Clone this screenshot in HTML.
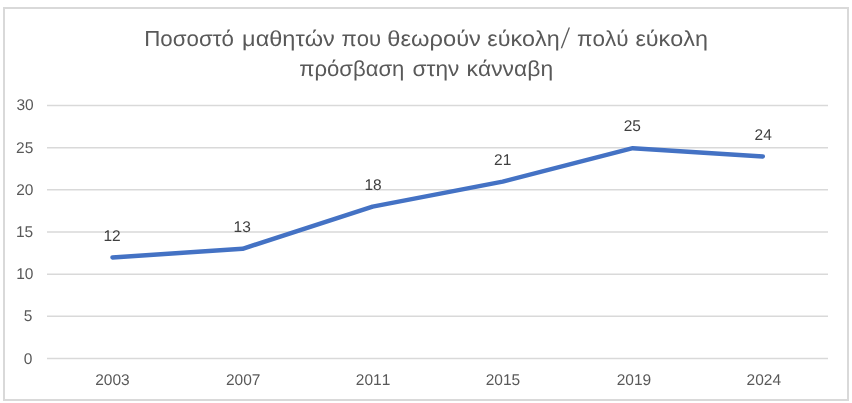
<!DOCTYPE html>
<html>
<head>
<meta charset="utf-8">
<style>
html,body{margin:0;padding:0;background:#fff;}
body{width:852px;height:403px;overflow:hidden;position:relative;}
svg{position:absolute;left:0;top:0;display:block;will-change:transform;}
text{font-family:"Liberation Sans","DejaVu Sans",sans-serif;font-kerning:none;text-rendering:geometricPrecision;}
.ti text{font-size:21.8px;fill:#595959;}
.ax{font-size:15.5px;fill:#595959;}
.dl{font-size:15.5px;fill:#404040;}
</style>
</head>
<body>
<svg width="852" height="403" viewBox="0 0 852 403">
  <rect x="0" y="0" width="852" height="403" fill="#ffffff"/>
  <rect x="4" y="8" width="844" height="392" fill="#ffffff" stroke="#d9d9d9" stroke-width="2"/>
  <g class="ti">
  <text x="144.21" y="45.6" textLength="89.69" lengthAdjust="spacingAndGlyphs">Ποσοστό</text>
  <text x="242.12" y="45.6" textLength="92.76" lengthAdjust="spacingAndGlyphs">μαθητών</text>
  <text x="341.54" y="45.6" textLength="39.64" lengthAdjust="spacingAndGlyphs">που</text>
  <text x="387.38" y="45.6" textLength="93.52" lengthAdjust="spacingAndGlyphs">θεωρούν</text>
  <text x="487.30" y="45.6" textLength="72.44" lengthAdjust="spacingAndGlyphs">εύκολη</text>
  <text x="577.03" y="45.6" textLength="51.49" lengthAdjust="spacingAndGlyphs">πολύ</text>
  <text x="635.40" y="45.6" textLength="72.54" lengthAdjust="spacingAndGlyphs">εύκολη</text>
  <text x="299.24" y="75.95" textLength="105.14" lengthAdjust="spacingAndGlyphs">πρόσβαση</text>
  <text x="412.59" y="75.95" textLength="46.78" lengthAdjust="spacingAndGlyphs">στην</text>
  <text x="466.56" y="75.95" textLength="86.55" lengthAdjust="spacingAndGlyphs">κάνναβη</text>
  <text transform="translate(560.80,48.37) skewX(-11.80) scale(1,1.565)" x="0" y="0" style="font-size:18px">/</text>
  </g>
  <g stroke="#d9d9d9" stroke-width="1.5" fill="none">
    <line x1="47" y1="105.50" x2="828" y2="105.50"/>
    <line x1="47" y1="147.67" x2="828" y2="147.67"/>
    <line x1="47" y1="189.83" x2="828" y2="189.83"/>
    <line x1="47" y1="232.00" x2="828" y2="232.00"/>
    <line x1="47" y1="274.17" x2="828" y2="274.17"/>
    <line x1="47" y1="316.33" x2="828" y2="316.33"/>
    <line x1="47" y1="358.50" x2="828" y2="358.50"/>
  </g>
  <g class="ax">
    <text x="16.38" y="109.65">30</text>
    <text x="16.11" y="152.65">25</text>
    <text x="16.21" y="194.65">20</text>
    <text x="15.93" y="237.15">15</text>
    <text x="16.18" y="278.65">10</text>
    <text x="23.74" y="321.35">5</text>
    <text x="23.84" y="363.65">0</text>
  </g>
  <g class="ax">
    <text x="95.19" y="384.95">2003</text>
    <text x="225.95" y="384.95">2007</text>
    <text x="355.85" y="384.95">2011</text>
    <text x="485.69" y="384.95">2015</text>
    <text x="616.65" y="384.95">2019</text>
    <text x="746.56" y="384.95">2024</text>
  </g>
  <polyline fill="none" stroke="#4472c4" stroke-width="4.5" stroke-linecap="round" stroke-linejoin="round" points="112.50,257.40 242.56,248.80 372.62,206.65 502.68,181.60 632.74,148.15 762.80,156.40"/>
  <g class="dl">
    <text x="103.49" y="241.00">12</text>
    <text x="233.53" y="231.85">13</text>
    <text x="364.43" y="189.65">18</text>
    <text x="494.02" y="164.60">21</text>
    <text x="623.76" y="130.65">25</text>
    <text x="754.59" y="139.90">24</text>
  </g>
</svg>
</body>
</html>
